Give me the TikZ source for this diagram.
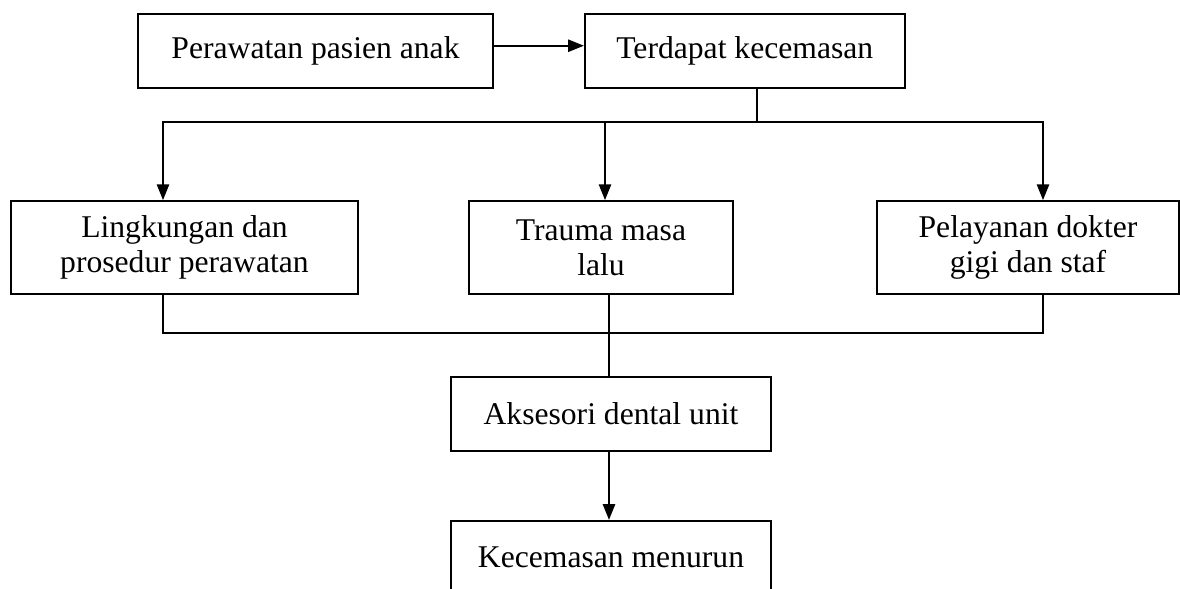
\documentclass[tikz,border=0pt]{standalone}
\usepackage{fontspec}
\setmainfont{Liberation Serif}
\usetikzlibrary{arrows.meta,positioning}

\begin{document}
\begin{tikzpicture}[
    box/.style={draw, line width=1pt, minimum height=1.48cm, align=center, font=\fontsize{18}{20}\selectfont},
    link/.style={line width=1pt},
    arr/.style={line width=1pt, -{Triangle[length=9pt,width=7pt]}},
    node distance=1.8cm
]
\useasboundingbox (0,0) rectangle (23.6,-11.78);

\node[box, minimum width=7.1cm] (rawat) at (6.31,-1.02) {Perawatan pasien anak};
\node[box, minimum width=6.4cm, right=of rawat] (cemas) {Terdapat kecemasan};

\node[box, minimum width=6.94cm, minimum height=1.86cm] (lingk) at (3.69,-4.95) {Lingkungan dan\\prosedur perawatan};
\node[box, minimum width=5.28cm, minimum height=1.86cm] (trauma) at (12.02,-4.95) {Trauma masa\\lalu};
\node[box, minimum width=6.04cm, minimum height=1.86cm] (layan) at (20.56,-4.95) {Pelayanan dokter\\gigi dan staf};

\node[box, minimum width=6.4cm] (akses) at (12.22,-8.28) {Aksesori dental unit};
\node[box, minimum width=6.4cm, below=1.36cm of akses] (turun) {Kecemasan menurun};

\coordinate (atas) at ([xshift=.24cm]cemas.south |- 0,-2.44);
\coordinate (bawah) at (12.18,-6.66);

\draw[arr] ([yshift=3pt]rawat.east) -- ([yshift=3pt]cemas.west);

% cabang ke tiga faktor
\draw[link] ([xshift=.24cm]cemas.south) -- (atas);
\draw[arr] (atas) -| ([xshift=-.43cm]lingk.north);
\draw[arr] (atas) -| ([xshift=.08cm]trauma.north);
\draw[arr] (atas) -| ([xshift=.3cm]layan.north);

% gabung ke aksesori
\draw[link] ([xshift=-.43cm]lingk.south) |- (bawah);
\draw[link] ([xshift=.3cm]layan.south) |- (bawah);
\draw[link] ([xshift=.16cm]trauma.south) -- (bawah) -- ([xshift=-.04cm]akses.north);
\draw[arr] ([xshift=-.04cm]akses.south) -- ([xshift=-.04cm]turun.north);

\end{tikzpicture}
\end{document}
